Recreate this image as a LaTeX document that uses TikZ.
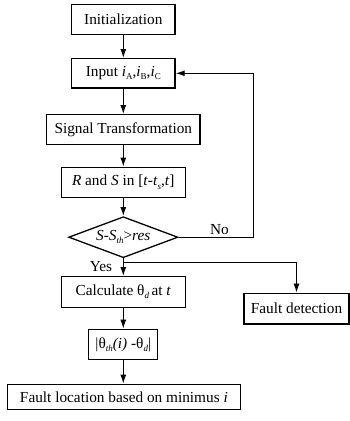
\documentclass[tikz,border=0pt]{standalone}
\usepackage{fontspec}
\setmainfont{Liberation Serif}
\usetikzlibrary{shapes.geometric,arrows.meta}
\newcommand\sbs[1]{\raisebox{-3.2pt}{\fontsize{9}{9}\selectfont #1}}
\begin{document}
\begin{tikzpicture}[x=1pt,y=-1pt,
  every node/.style={font=\fontsize{15.3}{18}\selectfont},
  box/.style={draw,line width=1.3pt,inner sep=0pt,minimum height=30pt},
  arr/.style={line width=1.2pt,-{Latex[length=9pt,width=6pt]}},
  lbl/.style={inner sep=0pt}]
\useasboundingbox (0,0) rectangle (350,421);
\node[box,minimum width=103.4pt] (init) at (123.3,19.7) {Initialization};
\node[box,minimum width=103.4pt,minimum height=29.3pt] (input) at (123.3,73.3) {Input \textit{i}\sbs{A},\textit{i}\sbs{B},\textit{i}\sbs{C}};
\node[box,minimum width=153.3pt] (signal) at (123.3,129.7) {Signal Transformation};
\node[box,minimum width=124pt] (rs) at (123.3,182.3) {\textit{R} and \textit{S} in [\textit{t}-\textit{t}\sbs{\textit{s}},\textit{t}]};
\node[draw,line width=1.3pt,shape=diamond,inner sep=0pt,aspect=2.67,minimum width=109.3pt,minimum height=41pt] (dec) at (123.3,237.2) {\textit{S}-\textit{S}\sbs{\textit{th}}>\textit{res}};
\node[box,minimum width=124.3pt,minimum height=30.6pt] (calc) at (123.3,292) {Calculate θ\sbs{\textit{d}}\,at \textit{t}};
\node[box,minimum width=69pt] (abs) at (123.3,344.3) {|θ\sbs{\textit{th}}\textit{(i)} -θ\sbs{\textit{d}}|};
\node[box,minimum width=233.4pt,minimum height=25pt] (loc) at (123.9,396.8) {Fault location based on minimus \textit{i}};
\node[box,minimum width=105pt,minimum height=30.7pt] (det) at (296.5,308.7) {Fault detection};
\coordinate (loopc) at (253.3,237.2);
\coordinate (split) at (123.3,262.7);
\node[lbl] (no) at (219.5,229.5) {No};
\node[lbl] (yes) at (101,266.5) {Yes};
\draw[arr] (init) -- (input);
\draw[arr] (input) -- (signal);
\draw[arr] (signal) -- (rs);
\draw[arr] (rs) -- (dec);
\draw[arr] (dec.east) -- (loopc) |- (input.east);
\draw[arr] (dec.south) -- (calc.north);
\draw[arr] (split) -| (det.north);
\draw[arr] (calc) -- (abs);
\draw[arr] (abs.south) -- (abs.south |- loc.north);
\end{tikzpicture}
\end{document}
